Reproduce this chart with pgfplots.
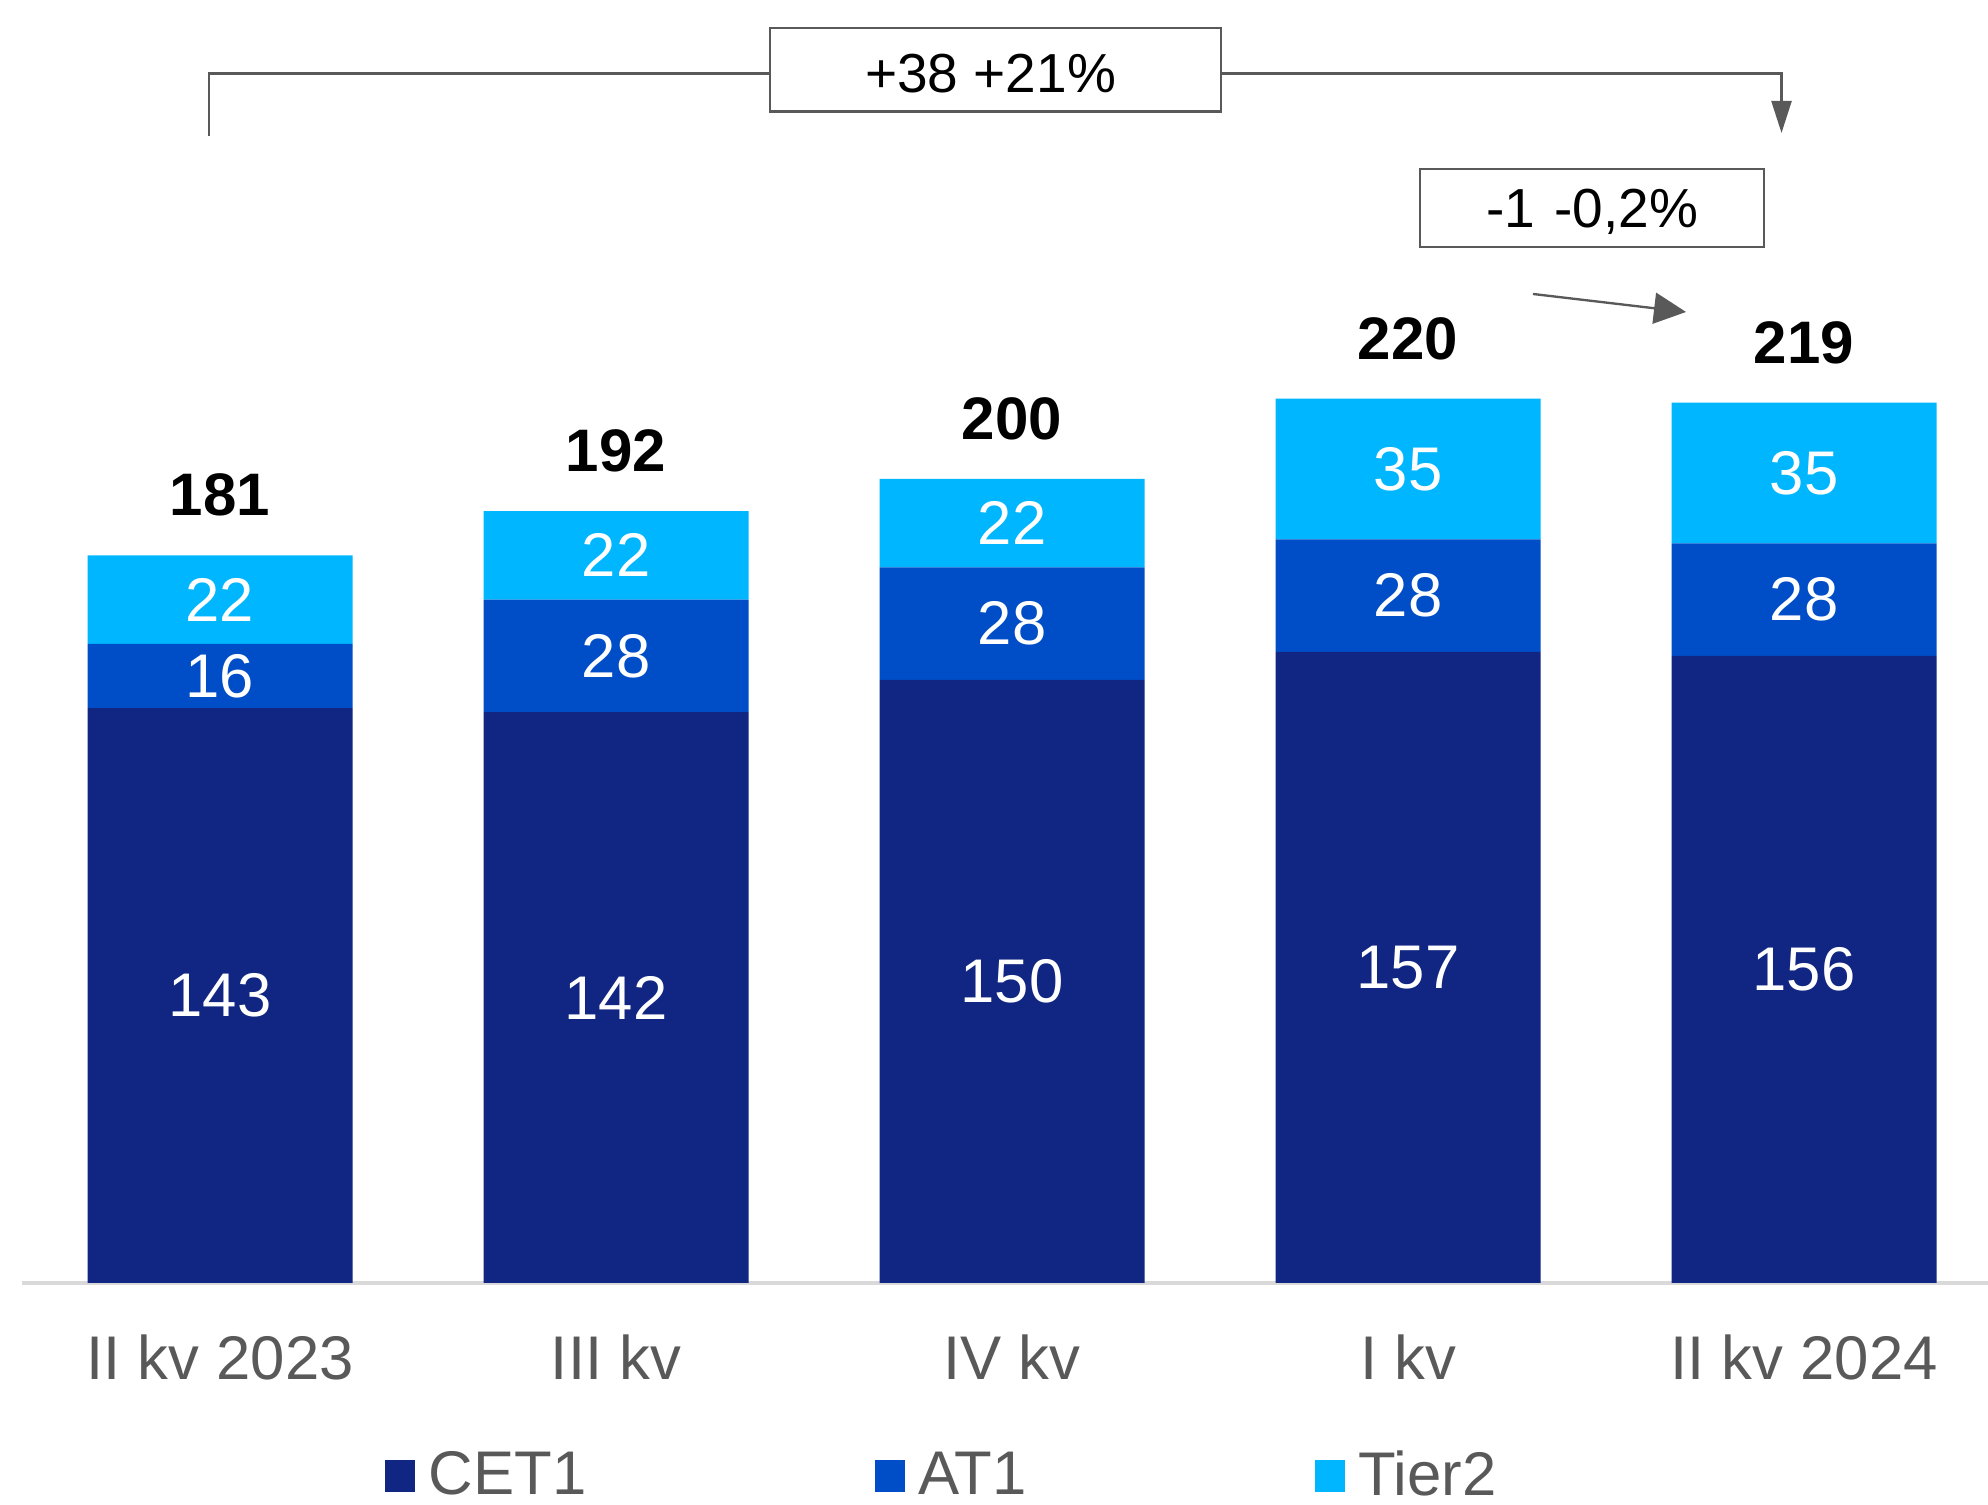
\documentclass[border=0pt]{standalone}
\usepackage{fontspec}
\setmainfont{Liberation Sans}
\usepackage{pgfplots}
\pgfplotsset{compat=1.18}
\usepackage{pgfplotstable}
\usetikzlibrary{arrows.meta}
\definecolor{cet}{RGB}{16,38,130}
\definecolor{atone}{RGB}{0,78,199}
\definecolor{tiertwo}{RGB}{0,183,255}
\definecolor{textgray}{RGB}{89,89,89}
\definecolor{axgray}{RGB}{217,217,217}
\pgfplotstableread{
x cet1 at1 tier2 total
0 143 16 22 181
1 142 28 22 192
2 150 28 22 200
3 157 28 35 220
4 156 28 35 219
}\data
\pgfplotsset{commonaxis/.style={
  at={(0,0)}, anchor=south west,
  scale only axis,
  width=589.8pt, height=384.9pt,
  xmin=-0.5, xmax=4.4646,
  ymin=0, ymax=319.15,
  clip=false,
  /pgf/number format/assume math mode=true,
}}
\begin{document}
\begin{tikzpicture}
\begin{axis}[
  commonaxis,
  ybar stacked,
  bar width=79.5pt,
  axis x line*=bottom,
  axis y line=none,
  x axis line style={draw=axgray, line width=1.1pt},
  xtick={0,1,2,3,4},
  xticklabels={II kv 2023, III kv, IV kv, I kv, II kv 2024},
  major tick length=0pt,
  xtick style={draw=none},
  xticklabel style={anchor=center, yshift=-22.2pt, text=textgray, font=\fontsize{18.5}{22}\selectfont},
  nodes near coords,
  point meta=explicit,
  every node near coord/.append style={anchor=center, text=white, font=\fontsize{18.5}{22}\selectfont},
  legend style={at={(0.4674,-0.1504)}, anchor=center, draw=none, fill=none,
    legend columns=3, font=\fontsize{18.5}{22}\selectfont, text=textgray,
    nodes={inner sep=0pt},
    /tikz/every odd column/.append style={column sep=4pt},
    /tikz/every even column/.append style={column sep=86.5pt}},
]
\addplot[fill=cet, draw=none,
  legend image code/.code={\fill[cet] (0pt,-4.9pt) rectangle (9pt,4.9pt);}]
  table[x=x, y=cet1, meta=cet1] {\data};
\addplot[fill=atone, draw=none,
  legend image code/.code={\fill[atone] (0pt,-4.9pt) rectangle (9pt,4.9pt);}]
  table[x=x, y=at1, meta=at1] {\data};
\addplot[fill=tiertwo, draw=none,
  legend image code/.code={\fill[tiertwo] (0pt,-4.9pt) rectangle (9pt,4.9pt);}]
  table[x=x, y=tier2, meta=tier2] {\data};
\legend{CET1, AT1, Tier2}
\end{axis}
\begin{axis}[
  commonaxis,
  hide axis,
  nodes near coords,
  point meta=explicit,
]
\addplot[draw=none, mark=none,
  every node near coord/.append style={anchor=center, text=black, font=\fontsize{18}{22}\selectfont\bfseries, yshift=18pt}]
  table[x=x, y=total, meta=total] {\data};
\end{axis}
% annotations
\draw[textgray, line width=0.7pt, -{Triangle[length=9.6pt,width=6pt]}]
  (56.1pt,344.1pt) -- (56.1pt,362.85pt) -- (527.85pt,362.85pt) -- (527.85pt,345pt);
\node[draw=textgray, line width=0.7pt, fill=white, minimum width=135.3pt, minimum height=25.1pt, inner sep=0pt]
  at (292.05pt,363.96pt) {};
\node at (290.6pt,362.9pt) {\fontsize{16.5}{19}\selectfont +38 +21\%};
\node[draw=textgray, line width=0.7pt, fill=white, minimum width=103.2pt, minimum height=23.4pt, inner sep=0pt]
  at (471pt,322.5pt) {};
\node at (471pt,321.3pt) {\fontsize{16.5}{19}\selectfont -1\hspace{0.35em}-0,2\%};
\draw[textgray, line width=0.7pt, -{Triangle[length=9.6pt,width=9.3pt]}]
  (453.3pt,296.7pt) -- (499.2pt,291.3pt);
\pgfresetboundingbox
\path[use as bounding box] (-6.6pt,-66.6pt) rectangle (589.8pt,384.9pt);
\end{tikzpicture}
\end{document}
